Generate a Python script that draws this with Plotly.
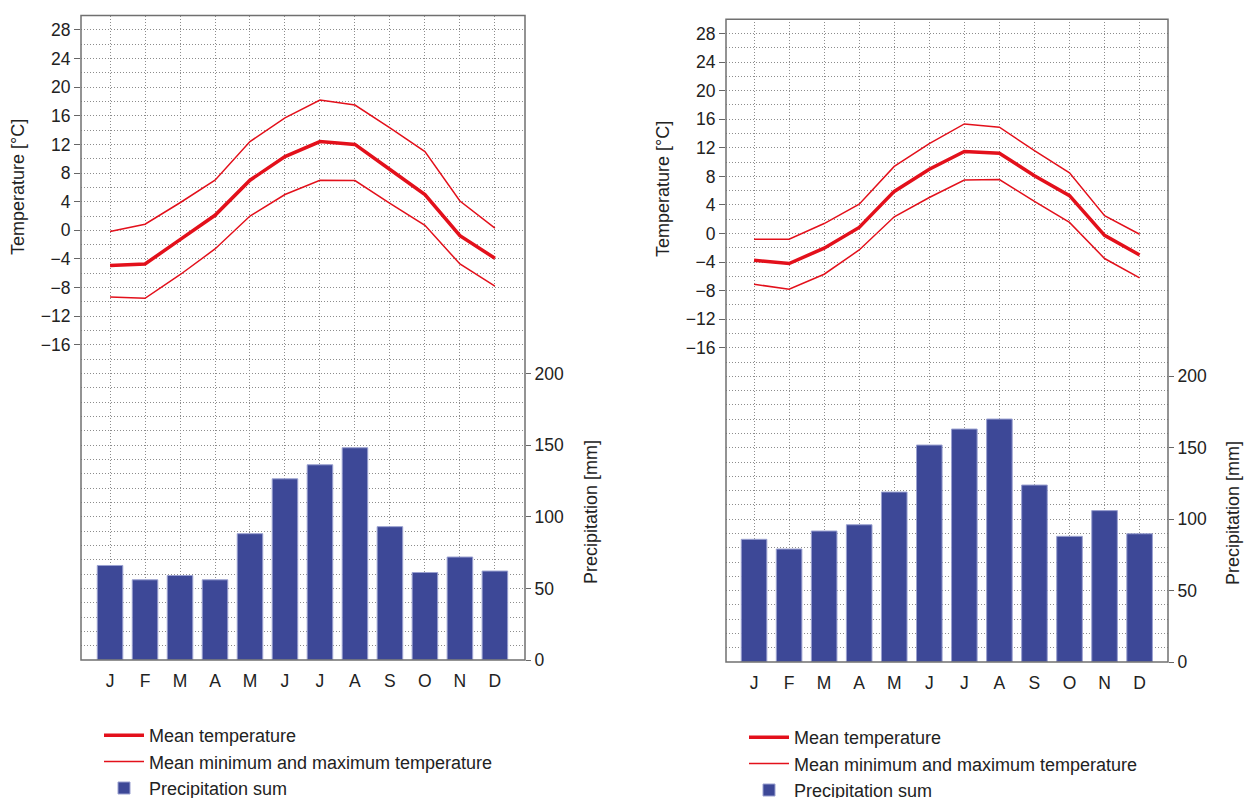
import plotly.graph_objects as go

months = ["J", "F", "M", "A", "M", "J", "J", "A", "S", "O", "N", "D"]
xpos = list(range(12))

# Left station
left_mean = [-4.9, -4.7, -1.3, 2.1, 7.0, 10.3, 12.4, 12.0, 8.5, 5.0, -0.75, -3.9]
left_max = [-0.15, 0.85, 3.85, 7.0, 12.4, 15.7, 18.2, 17.5, 14.3, 11.0, 4.1, 0.3]
left_min = [-9.3, -9.5, -6.2, -2.6, 2.0, 5.0, 7.0, 6.95, 3.75, 0.7, -4.7, -7.8]
left_prec = [66.0, 56.0, 59.0, 56.0, 88.2, 126.5, 136.3, 148.2, 93.1, 61.1, 71.9, 62.1]

# Right station
right_mean = [-3.75, -4.2, -2.05, 0.85, 5.9, 9.0, 11.5, 11.25, 8.1, 5.3, -0.25, -3.0]
right_max = [-0.8, -0.8, 1.4, 4.1, 9.4, 12.6, 15.35, 14.9, 11.6, 8.5, 2.5, -0.1]
right_min = [-7.1, -7.8, -5.7, -2.3, 2.35, 5.05, 7.5, 7.55, 4.5, 1.55, -3.5, -6.2]
right_prec = [85.9, 79.1, 91.7, 96.1, 119.0, 151.9, 163.1, 170.1, 123.9, 88.0, 106.0, 89.8]

temp_ticks = list(range(-16, 29, 4))
temp_grid = list(range(-60, 31, 2))
prec_ticks = [0, 50, 100, 150, 200]

RED = "#e3101b"
BLUE = "#3d4897"
FONT = "Liberation Sans, Arial, sans-serif"
W, H = 1244, 798
GRIDC = "#8c8c8c"
DASH = "1px,2px"

fig = go.Figure()


def add_station(mean, tmax, tmin, prec, xa, ya_t, ya_p, legend):
    fig.add_trace(go.Bar(x=xpos, y=prec, xaxis=xa, yaxis=ya_p, width=0.73,
                         marker=dict(color=BLUE, line=dict(color="#9aa0d0", width=1)),
                         name="Precipitation sum", legend=legend, legendrank=3))
    fig.add_trace(go.Scatter(x=xpos, y=tmax, xaxis=xa, yaxis=ya_t, mode="lines",
                             line=dict(color=RED, width=1.5),
                             name="Mean minimum and maximum temperature",
                             legend=legend, legendrank=2))
    fig.add_trace(go.Scatter(x=xpos, y=tmin, xaxis=xa, yaxis=ya_t, mode="lines",
                             line=dict(color=RED, width=1.5), showlegend=False,
                             name="Mean minimum temperature", legend=legend))
    fig.add_trace(go.Scatter(x=xpos, y=mean, xaxis=xa, yaxis=ya_t, mode="lines",
                             line=dict(color=RED, width=3.5),
                             name="Mean temperature", legend=legend, legendrank=1))


add_station(left_mean, left_max, left_min, left_prec, "x", "y", "y2", "legend")
add_station(right_mean, right_max, right_min, right_prec, "x2", "y3", "y4", "legend2")

tickfont = dict(family=FONT, size=17.5, color="#222")
grid = dict(showgrid=True, gridcolor=GRIDC, gridwidth=1, griddash=DASH)


def xaxis(dom, rng, anchor):
    return dict(domain=dom, range=rng, anchor=anchor, tickmode="array", tickvals=xpos,
                ticktext=months, ticks="", tickfont=tickfont, ticklabelstandoff=8,
                showline=False, zeroline=False, fixedrange=True, **grid)


def taxis(dom, anchor):
    return dict(domain=dom, anchor=anchor, range=[-60, 30], tickmode="array",
                tickvals=temp_ticks, ticks="outside", ticklen=6, tickcolor="#666",
                tickfont=tickfont, showline=False, zeroline=False, fixedrange=True,
                minor=dict(tickmode="array", tickvals=temp_grid, showgrid=True,
                           gridcolor=GRIDC, griddash=DASH, ticks=""),
                **grid)


def paxis(over, anchor):
    return dict(overlaying=over, anchor=anchor, side="right", range=[0, 450],
                tickmode="array", tickvals=prec_ticks, ticks="outside", ticklen=5,
                tickcolor="#666", tickfont=tickfont, showgrid=False, zeroline=False,
                showline=False, fixedrange=True)


lx = [81 / W, 525 / W]
rx = [726 / W, 1168 / W]
ly = [1 - 660 / H, 1 - 15.5 / H]
ry = [1 - 662 / H, 1 - 19.3 / H]

legfont = dict(family=FONT, size=18, color="#222")

fig.update_layout(
    width=W, height=H,
    margin=dict(l=0, r=0, t=0, b=0, autoexpand=False),
    paper_bgcolor="white", plot_bgcolor="white",
    barmode="overlay",
    xaxis=xaxis(lx, [-0.83, 11.86], "y"),
    yaxis=taxis(ly, "x"),
    yaxis2=paxis("y", "x"),
    xaxis2=xaxis(rx, [-0.80, 11.81], "y3"),
    yaxis3=taxis(ry, "x2"),
    yaxis4=paxis("y3", "x2"),
    legend=dict(x=99 / W, y=1 - 717 / H, xref="container", yref="container",
                xanchor="left", yanchor="top",
                font=legfont, itemwidth=40, tracegroupgap=0, bgcolor="rgba(0,0,0,0)",
                traceorder="normal"),
    legend2=dict(x=744 / W, y=1 - 719 / H, xref="container", yref="container",
                 xanchor="left", yanchor="top",
                 font=legfont, itemwidth=40, tracegroupgap=0, bgcolor="rgba(0,0,0,0)",
                 traceorder="normal"),
    showlegend=True,
)

# plot frames
for xr, yr in (("x domain", "y domain"), ("x2 domain", "y3 domain")):
    fig.add_shape(type="rect", xref=xr, yref=yr, x0=0, x1=1, y0=0, y1=1,
                  line=dict(color="#707070", width=1.5), layer="above")

titles = [
    ("Temperature [°C]", 18, 187),
    ("Precipitation [mm]", 591, 512),
    ("Temperature [°C]", 663, 189),
    ("Precipitation [mm]", 1233, 513),
]
for text, px, py in titles:
    fig.add_annotation(text=text, x=px / W, y=1 - py / H, xref="paper", yref="paper",
                       textangle=-90, showarrow=False, xanchor="center", yanchor="middle",
                       font=dict(family=FONT, size=18, color="#222"))

fig.write_html("out.html", config={"displayModeBar": False},
               post_script="document.body.style.margin='0';")
